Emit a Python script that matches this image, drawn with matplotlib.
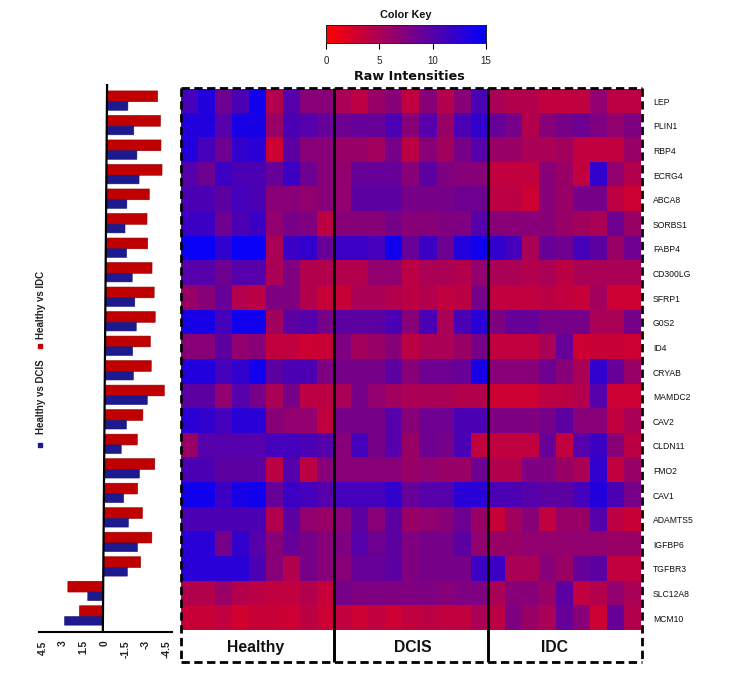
import numpy as np
import matplotlib
matplotlib.use("Agg")
import matplotlib.pyplot as plt
from matplotlib.colors import LinearSegmentedColormap
from matplotlib.transforms import Affine2D
from matplotlib.lines import Line2D

plt.rcParams['font.family'] = ['Liberation Sans', 'DejaVu Sans']

genes = ["LEP", "PLIN1", "RBP4", "ECRG4", "ABCA8", "SORBS1", "FABP4", "CD300LG", "SFRP1", "G0S2", "ID4",
         "CRYAB", "MAMDC2", "CAV2", "CLDN11", "FMO2", "CAV1", "ADAMTS5", "IGFBP6", "TGFBR3", "SLC12A8", "MCM10"]
groups = ["Healthy", "DCIS", "IDC"]

healthy = [
    [11, 13, 8.5, 10.5, 14, 4.5, 10, 7, 7],
    [13, 13, 10, 13.5, 13.5, 6, 10.5, 10, 9],
    [13, 11, 8.5, 12, 12.5, 3, 9.5, 7, 7],
    [10, 8.5, 11.5, 10.5, 10.5, 9, 11.5, 8.5, 7],
    [10.5, 10.5, 9.5, 11, 10.5, 7, 7, 6.5, 7],
    [11.5, 11.5, 8.5, 10.5, 11.5, 6.5, 8, 7.5, 4],
    [14.5, 14.5, 12, 14.5, 14.5, 5, 11.5, 12, 9],
    [10, 10, 8.5, 10, 10, 5, 7.5, 4.5, 4.5],
    [6, 7, 9, 4.5, 4, 7.5, 7.5, 4.5, 3.3],
    [13.5, 13.5, 11, 14, 14, 5.5, 9.5, 10, 8],
    [7, 7, 9.5, 6.5, 7, 3.7, 3.7, 3, 3.3],
    [13, 13, 11, 12, 14, 9.5, 10.5, 10.5, 7.5],
    [9.5, 9.5, 6.5, 10, 8, 5, 8, 4, 4],
    [12.5, 12, 11, 12.5, 12.5, 7, 6.5, 6.5, 3.7],
    [6, 10, 10, 10, 10, 11, 11, 10.5, 10],
    [10.5, 10.5, 9.5, 9.5, 9.5, 4, 10, 4, 7],
    [14, 14, 11.5, 13.5, 14, 9, 11.5, 11, 10],
    [10.5, 10.5, 10.5, 10.5, 10.5, 4.5, 9.5, 6.5, 6],
    [12.5, 12.5, 8, 12, 10, 7, 9, 8, 7],
    [12.5, 12.5, 12.5, 12.5, 10.5, 7, 4.5, 8, 7],
    [4.5, 4.5, 6, 4.5, 4, 3.7, 3.7, 4.5, 3.4],
    [3.3, 3.3, 3.7, 2.8, 3.3, 3.3, 3, 4, 3],
]
dcis = [
    [5, 4, 6, 7, 3.7, 7, 4.5, 7, 10.5],
    [8.5, 9, 9, 10.5, 7, 10, 6, 10.5, 12],
    [6, 6, 5.5, 8, 4, 7, 5.5, 8, 10],
    [6.5, 9, 9, 9, 7, 9.5, 7.5, 7, 7],
    [6.5, 9.5, 9.5, 9.5, 8, 8, 8, 8.5, 8.5],
    [7, 7, 7, 8, 7, 7, 7.5, 7.5, 10],
    [11.5, 11.5, 11, 14, 9, 11.5, 8.5, 13, 14],
    [4.5, 4.5, 6.5, 6.5, 4, 5, 5, 4.5, 6.5],
    [3.3, 5, 5, 4.5, 4, 4.5, 3.7, 4, 8],
    [9.5, 9.5, 9.5, 10.5, 7, 10.5, 5, 10.5, 12.5],
    [7.5, 5.5, 6, 7, 4, 5, 5, 6, 8],
    [8, 8, 8, 9.5, 7, 8.5, 8.5, 9, 13.5],
    [5, 8, 6.5, 5.5, 5, 5, 5, 4.5, 4.5],
    [8, 8, 8, 10, 7, 8.5, 8.5, 10.5, 10.5],
    [7, 11, 8, 10, 6, 8.5, 8, 10.5, 3.7],
    [7, 7, 7, 7, 6, 6.5, 6, 6, 8.5],
    [11, 11, 11, 12, 9, 10, 10, 12.5, 12.5],
    [7, 9.5, 7, 9.5, 6, 6.5, 7, 8.5, 6],
    [7.5, 10, 8.5, 9.5, 7.5, 8, 8, 9.5, 6.5],
    [7, 9, 9, 9.5, 7.5, 8, 8, 8, 11.5],
    [8, 7.5, 7.5, 7.5, 7.5, 7.5, 7, 7.5, 7.5],
    [3.7, 3, 3.7, 3, 3.7, 4, 3.7, 3.7, 5],
]
idc = [
    [5, 4.5, 4.5, 3.7, 3.7, 3.7, 6.5, 4, 4],
    [9, 8, 4.5, 7, 8, 8.5, 7.5, 6.5, 7.5],
    [6, 6, 5, 5, 5.5, 3.7, 3.7, 3.7, 6],
    [3.7, 3.7, 3.7, 7, 6, 3.7, 12, 6.5, 4.5],
    [4, 4, 3, 7, 6, 8, 8, 4, 3],
    [7, 7, 7, 7, 6, 5.5, 5, 8.5, 6],
    [12, 11, 5, 9, 8.5, 11, 9.5, 6, 8.5],
    [5, 5, 4.5, 5, 4, 5, 5, 5, 5],
    [3.7, 3.7, 3.7, 4, 3.7, 3.3, 5.5, 3, 3],
    [7.5, 9, 9, 8, 8, 8, 5, 5, 8],
    [3.7, 3.7, 3.7, 5, 9, 3, 3.3, 3.3, 3],
    [7, 7, 7, 8.5, 7, 5, 12, 9, 6],
    [3, 3, 3, 4, 4, 4.5, 10, 3, 3],
    [7.5, 7.5, 7.5, 8, 9.5, 7, 7, 3.7, 5],
    [3.7, 3.7, 3.7, 9, 3.7, 10, 11.5, 7, 4],
    [4.5, 4.5, 7.5, 7.5, 6, 5, 12, 3.7, 6],
    [10.5, 10.5, 10, 9.5, 9.5, 11, 13, 10.5, 8],
    [3.3, 5.5, 7, 3.7, 6, 6, 10, 4, 3.3],
    [6, 6, 6.5, 6.5, 6.5, 6.5, 6.5, 6, 6],
    [11.5, 5, 5, 7, 6, 9, 9.5, 3.7, 3.7],
    [5, 7, 7, 6, 9.5, 3.7, 4.5, 6.5, 5],
    [4, 7.5, 6, 5, 9, 7, 3, 9, 4.5],
]
vs_idc = [-3.67, -3.89, -3.94, -4.03, -3.12, -2.97, -3.03, -3.36, -3.53, -3.62, -3.28,
          -3.36, -4.32, -2.78, -2.39, -3.67, -2.44, -2.8, -3.5, -2.7, 2.56, 1.71]
vs_dcis = [-1.52, -1.96, -2.2, -2.37, -1.5, -1.38, -1.51, -1.93, -2.13, -2.25, -2.0,
           -2.07, -3.09, -1.59, -1.23, -2.56, -1.43, -1.79, -2.46, -1.74, 1.11, 2.78]
bar_ticks = [4.5, 3, 1.5, 0, -1.5, -3, -4.5]
key_ticks = [0, 5, 10, 15]

W, H = 733, 682
fig = plt.figure(figsize=(W / 100, H / 100), dpi=100)


def px_axes(x0, y0, x1, y1, **kw):
    return fig.add_axes([x0 / W, 1 - y1 / H, (x1 - x0) / W, (y1 - y0) / H], **kw)


cmap = LinearSegmentedColormap.from_list("rb", ["#ff0000", "#0000ff"])

# heat map
ax = px_axes(181, 89, 641, 630.5)
matrix = np.hstack([np.array(healthy), np.array(dcis), np.array(idc)])
ax.imshow(matrix, cmap=cmap, vmin=0, vmax=15, aspect="auto", interpolation="nearest")
ax.yaxis.tick_right()
ax.set_yticks(range(len(genes)), genes, fontsize=6.2, color="#111111")
ax.set_xticks([])
ax.tick_params(axis="y", length=0, pad=8.5)
for s in ax.spines.values():
    s.set_visible(False)

# bars
bx = px_axes(39, 84, 172, 632)
bx.set_xlim(4.75, -4.89)
bx.set_ylim(21.63, -0.722)
shear = Affine2D.from_values(1, 0, 0.00775, 1, -1.7 - 0.00775 * 50, 0)
tr = bx.transData + shear
y = np.arange(len(genes))
bx.barh(y - 0.22, vs_idc, height=0.44, color="#c00000", edgecolor="#8f0000", linewidth=0.4, transform=tr)
bx.barh(y + 0.175, vs_dcis, height=0.35, color="#1c1a8e", edgecolor="#14126e", linewidth=0.4, transform=tr)
bx.plot([0, 0], [-0.722, 21.63], color="black", lw=1.6, transform=tr, solid_capstyle="butt", clip_on=False)
bx.set_xticks(bar_ticks, [f"{v:g}" for v in bar_ticks], rotation=90, fontsize=7.4, fontweight="bold", color="#222222")
bx.set_yticks([])
bx.tick_params(axis="x", length=0, pad=6)
for k in ("top", "left", "right"):
    bx.spines[k].set_visible(False)
bx.spines["bottom"].set_linewidth(1.5)
bx.patch.set_alpha(0)

# colour key
cx = px_axes(326, 25, 486, 43)
cx.imshow(np.linspace(0, 15, 256)[None, :], cmap=cmap, vmin=0, vmax=15, aspect="auto", extent=[0, 15, 0, 1])
cx.set_yticks([])
cx.set_xticks(key_ticks, [str(v) for v in key_ticks], fontsize=7, color="#222222")
cx.tick_params(axis="x", length=4, width=0.8, pad=5.5)
for s in cx.spines.values():
    s.set_linewidth(0.7)
    s.set_color("#222222")

# overlay in pixel coordinates
ov = px_axes(0, 0, W, H)
ov.set_xlim(0, W)
ov.set_ylim(H, 0)
ov.axis("off")
ov.patch.set_alpha(0)
for xp, yp in (([181, 641.5], [88, 88]), ([641.5, 641.5], [88, 662]),
               ([181, 641.5], [662, 662]), ([181, 181], [88, 662])):
    line = Line2D(xp, yp, color="black", lw=2, dash_capstyle="butt")
    line.set_dashes((3, 1.6))
    ov.add_line(line)
for xs in (334.3, 488.3):
    ov.plot([xs, xs], [88, 662], color="black", lw=2.1, solid_capstyle="butt")
for label, cxp in zip(groups, (256, 413, 554)):
    ov.text(cxp, 647.5, label, ha="center", va="center", fontsize=11.3, fontweight="bold", color="#111111")
ov.text(406, 14.5, "Color Key", ha="center", va="center", fontsize=7.8, fontweight="bold", color="#111111")
ov.text(409, 76, "Raw Intensities", ha="center", va="center", fontsize=9.2, fontweight="bold",
        family="DejaVu Sans", color="#111111")
ov.text(41.5, 305, "Healthy vs IDC", rotation=90, ha="center", va="center", fontsize=7, fontweight="bold", color="#222222")
ov.text(41.5, 397, "Healthy vs DCIS", rotation=90, ha="center", va="center", fontsize=7, fontweight="bold", color="#222222")
ov.plot([40], [346], marker="s", ms=3.3, color="#c00000")
ov.plot([40], [445], marker="s", ms=3.3, color="#1c1a8e")

fig.savefig("out.png", dpi=100)
